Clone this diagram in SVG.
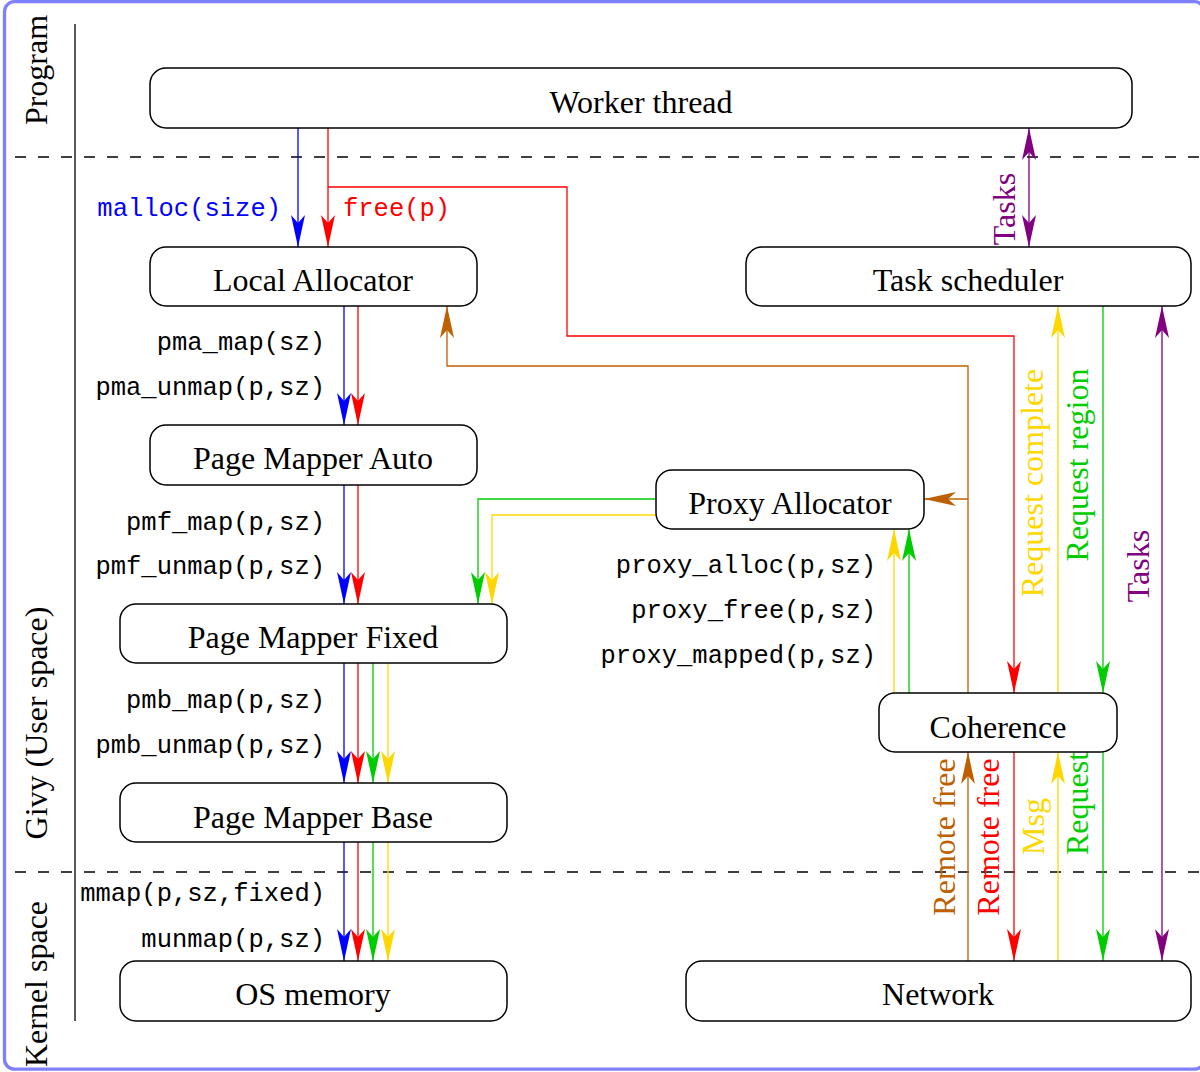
<svg xmlns="http://www.w3.org/2000/svg" width="1200" height="1072" viewBox="0 0 1200 1072">
  <style>
    .node rect { fill: #ffffff; stroke: #000000; stroke-width: 1.5; }
    .node text { font-family: "Liberation Serif", "Times New Roman", serif; font-size: 32px; text-anchor: middle; fill: #000000; }
    .lbl { font-family: "Liberation Serif", "Times New Roman", serif; font-size: 32px; }
    .mono { font-family: "Liberation Mono", "Courier New", monospace; font-size: 25.5px; fill: #000000; }
    .r { text-anchor: end; }
    .c { text-anchor: middle; }
    .wire { fill: none; stroke-width: 1.3; }
    .blue { stroke: #0000ff; }
    .red { stroke: #ff0000; }
    .green { stroke: #00cc00; }
    .yellow { stroke: #ffd700; }
    .purple { stroke: #800080; }
    .orange { stroke: #bf6000; }
    .sep { stroke: #000000; stroke-width: 1.3; stroke-dasharray: 11 12; fill: none; }
  </style>
  <defs>
    <marker id="a-blue" viewBox="-34 -10 40 20" refX="0" refY="0" markerWidth="40" markerHeight="20" markerUnits="userSpaceOnUse" orient="auto-start-reverse">
      <path d="M0,0 L-32,-7 L-24,0 L-32,7 Z" fill="#0000ff"/>
    </marker>
    <marker id="a-red" viewBox="-34 -10 40 20" refX="0" refY="0" markerWidth="40" markerHeight="20" markerUnits="userSpaceOnUse" orient="auto-start-reverse">
      <path d="M0,0 L-32,-7 L-24,0 L-32,7 Z" fill="#ff0000"/>
    </marker>
    <marker id="a-green" viewBox="-34 -10 40 20" refX="0" refY="0" markerWidth="40" markerHeight="20" markerUnits="userSpaceOnUse" orient="auto-start-reverse">
      <path d="M0,0 L-32,-7 L-24,0 L-32,7 Z" fill="#00cc00"/>
    </marker>
    <marker id="a-yellow" viewBox="-34 -10 40 20" refX="0" refY="0" markerWidth="40" markerHeight="20" markerUnits="userSpaceOnUse" orient="auto-start-reverse">
      <path d="M0,0 L-32,-7 L-24,0 L-32,7 Z" fill="#ffd700"/>
    </marker>
    <marker id="a-purple" viewBox="-34 -10 40 20" refX="0" refY="0" markerWidth="40" markerHeight="20" markerUnits="userSpaceOnUse" orient="auto-start-reverse">
      <path d="M0,0 L-32,-7 L-24,0 L-32,7 Z" fill="#800080"/>
    </marker>
    <marker id="a-orange" viewBox="-34 -10 40 20" refX="0" refY="0" markerWidth="40" markerHeight="20" markerUnits="userSpaceOnUse" orient="auto-start-reverse">
      <path d="M0,0 L-32,-7 L-24,0 L-32,7 Z" fill="#bf6000"/>
    </marker>
  </defs>

  <!-- background and frame -->
  <rect x="0" y="0" width="1200" height="1072" fill="#ffffff"/>
  <rect x="4.5" y="1.7" width="1200" height="1067.5" rx="10" fill="none" stroke="#8080ff" stroke-width="3.3"/>

  <!-- layer axis and separators -->
  <g id="layers">
    <line x1="75" y1="24" x2="75" y2="1021" stroke="#000000" stroke-width="1.3"/>
    <line class="sep" x1="15" y1="157" x2="1200" y2="157"/>
    <line class="sep" x1="15" y1="872" x2="1200" y2="872"/>
    <text class="lbl c" transform="translate(47,70) rotate(-90)">Program</text>
    <text class="lbl c" transform="translate(47,723) rotate(-90)">Givy (User space)</text>
    <text class="lbl c" transform="translate(47,984) rotate(-90)">Kernel space</text>
  </g>

  <!-- connectors -->
  <g id="connectors">
    <!-- blue: allocation path -->
    <path class="wire blue" d="M298,128 V247" marker-end="url(#a-blue)"/>
    <path class="wire blue" d="M344,306 V425" marker-end="url(#a-blue)"/>
    <path class="wire blue" d="M344,485 V604" marker-end="url(#a-blue)"/>
    <path class="wire blue" d="M344,663 V783" marker-end="url(#a-blue)"/>
    <path class="wire blue" d="M344,842 V961" marker-end="url(#a-blue)"/>
    <!-- red: free path -->
    <path class="wire red" d="M328,128 V247" marker-end="url(#a-red)"/>
    <path class="wire red" d="M328,187 H567 V336 H1014 V693" marker-end="url(#a-red)"/>
    <path class="wire red" d="M358,306 V425" marker-end="url(#a-red)"/>
    <path class="wire red" d="M358,485 V604" marker-end="url(#a-red)"/>
    <path class="wire red" d="M358,663 V783" marker-end="url(#a-red)"/>
    <path class="wire red" d="M358,842 V961" marker-end="url(#a-red)"/>
    <path class="wire red" d="M1014,752 V961" marker-end="url(#a-red)"/>
    <!-- green: region requests -->
    <path class="wire green" d="M656,499 H478 V604" marker-end="url(#a-green)"/>
    <path class="wire green" d="M373,663 V783" marker-end="url(#a-green)"/>
    <path class="wire green" d="M373,842 V961" marker-end="url(#a-green)"/>
    <path class="wire green" d="M909,693 V529" marker-end="url(#a-green)"/>
    <path class="wire green" d="M1103,306 V693" marker-end="url(#a-green)"/>
    <path class="wire green" d="M1103,752 V961" marker-end="url(#a-green)"/>
    <!-- yellow: completion messages -->
    <path class="wire yellow" d="M656,515 H492 V604" marker-end="url(#a-yellow)"/>
    <path class="wire yellow" d="M388,663 V783" marker-end="url(#a-yellow)"/>
    <path class="wire yellow" d="M388,842 V961" marker-end="url(#a-yellow)"/>
    <path class="wire yellow" d="M894,693 V529" marker-end="url(#a-yellow)"/>
    <path class="wire yellow" d="M1058,693 V306" marker-end="url(#a-yellow)"/>
    <path class="wire yellow" d="M1058,961 V752" marker-end="url(#a-yellow)"/>
    <!-- purple: tasks -->
    <path class="wire purple" d="M1029,128 V247" marker-start="url(#a-purple)" marker-end="url(#a-purple)"/>
    <path class="wire purple" d="M1162,961 V306" marker-start="url(#a-purple)" marker-end="url(#a-purple)"/>
    <!-- orange: remote free -->
    <path class="wire orange" d="M968,961 V752" marker-end="url(#a-orange)"/>
    <path class="wire orange" d="M968,693 V366 H447 V306" marker-end="url(#a-orange)"/>
    <path class="wire orange" d="M968,499 H924" marker-end="url(#a-orange)"/>
  </g>

  <!-- call labels -->
  <g id="labels">
    <text class="mono r" x="281" y="216" fill="#0000ff" style="fill:#0000ff">malloc(size)</text>
    <text class="mono" x="343" y="216" style="fill:#ff0000">free(p)</text>
    <text class="mono r" x="325" y="350">pma_map(sz)</text>
    <text class="mono r" x="325" y="395">pma_unmap(p,sz)</text>
    <text class="mono r" x="325" y="530">pmf_map(p,sz)</text>
    <text class="mono r" x="325" y="574">pmf_unmap(p,sz)</text>
    <text class="mono r" x="325" y="708">pmb_map(p,sz)</text>
    <text class="mono r" x="325" y="753">pmb_unmap(p,sz)</text>
    <text class="mono r" x="325" y="901">mmap(p,sz,fixed)</text>
    <text class="mono r" x="325" y="947">munmap(p,sz)</text>
    <text class="mono r" x="876" y="573">proxy_alloc(p,sz)</text>
    <text class="mono r" x="876" y="618">proxy_free(p,sz)</text>
    <text class="mono r" x="876" y="663">proxy_mapped(p,sz)</text>

    <text class="lbl c" fill="#800080" transform="translate(1015,209) rotate(-90)">Tasks</text>
    <text class="lbl c" fill="#ffd700" transform="translate(1043,483) rotate(-90)">Request complete</text>
    <text class="lbl c" fill="#00cc00" transform="translate(1088,465) rotate(-90)">Request region</text>
    <text class="lbl c" fill="#800080" transform="translate(1149,566) rotate(-90)">Tasks</text>
    <text class="lbl c" fill="#bf6000" transform="translate(955,837) rotate(-90)">Remote free</text>
    <text class="lbl c" fill="#ff0000" transform="translate(999,837) rotate(-90)">Remote free</text>
    <text class="lbl" fill="#ffd700" transform="translate(1044,855) rotate(-90)">Msg</text>
    <text class="lbl" fill="#00cc00" transform="translate(1088,855) rotate(-90)">Request</text>
  </g>

  <!-- nodes -->
  <g id="worker-thread" class="node">
    <rect x="150" y="68" width="982" height="60" rx="16"/>
    <text x="641" y="113">Worker thread</text>
  </g>
  <g id="local-allocator" class="node">
    <rect x="150" y="247" width="327" height="59" rx="16"/>
    <text x="313" y="291">Local Allocator</text>
  </g>
  <g id="task-scheduler" class="node">
    <rect x="746" y="247" width="445" height="59" rx="16"/>
    <text x="968" y="291">Task scheduler</text>
  </g>
  <g id="page-mapper-auto" class="node">
    <rect x="150" y="425" width="327" height="60" rx="16"/>
    <text x="313" y="469">Page Mapper Auto</text>
  </g>
  <g id="proxy-allocator" class="node">
    <rect x="656" y="470" width="268" height="59" rx="16"/>
    <text x="790" y="514">Proxy Allocator</text>
  </g>
  <g id="page-mapper-fixed" class="node">
    <rect x="120" y="604" width="387" height="59" rx="16"/>
    <text x="313" y="648">Page Mapper Fixed</text>
  </g>
  <g id="coherence" class="node">
    <rect x="879" y="693" width="238" height="59" rx="16"/>
    <text x="998" y="738">Coherence</text>
  </g>
  <g id="page-mapper-base" class="node">
    <rect x="120" y="783" width="387" height="59" rx="16"/>
    <text x="313" y="828">Page Mapper Base</text>
  </g>
  <g id="os-memory" class="node">
    <rect x="120" y="961" width="387" height="60" rx="16"/>
    <text x="313" y="1005">OS memory</text>
  </g>
  <g id="network" class="node">
    <rect x="686" y="961" width="505" height="60" rx="16"/>
    <text x="938" y="1005">Network</text>
  </g>
</svg>
